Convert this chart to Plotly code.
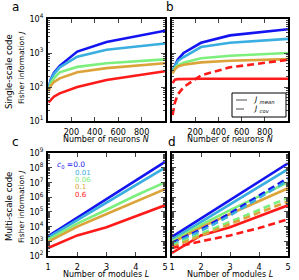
import plotly.graph_objects as go

# ---------------- data ----------------
N = [5, 25, 50, 100, 250, 500, 1000]
L = [1, 2, 3, 4, 5]
c0_labels = ["0.0", "0.01", "0.06", "0.1", "0.6"]
colors = ["#1414f0", "#3aaee0", "#7def7d", "#dba43a", "#ff1a1a"]

# panel a: single-scale, J (one series per c0)
a_c00 = [90, 170, 260, 420, 1100, 2100, 4500]
a_c01 = [85, 160, 240, 380, 780, 1250, 1900]
a_c06 = [80, 130, 180, 270, 390, 500, 650]
a_c10 = [75, 110, 140, 180, 270, 360, 500]
a_c60 = [35, 42, 52, 65, 100, 160, 290]

# panel b: single-scale, J mean (solid) and J cov (dashed, c0=0.6)
b_c00 = [300, 450, 650, 1000, 2000, 3300, 5000]
b_c01 = [290, 420, 580, 760, 1500, 2000, 2600]
b_c06 = [270, 360, 430, 520, 700, 830, 1000]
b_c10 = [250, 330, 400, 450, 530, 590, 660]
b_c60 = [130, 165, 170, 172, 175, 175, 175]
b_cov_c60 = [15, 35, 60, 100, 220, 380, 630]

# panel c: multi-scale, J
c_c00 = [2.2e3, 4.0e4, 7.9e5, 1.4e7, 2.5e8]
c_c01 = [1.8e3, 2.8e4, 4.0e5, 6.3e6, 1.0e8]
c_c06 = [1.3e3, 1.6e4, 1.4e5, 1.3e6, 1.0e7]
c_c10 = [9.0e2, 1.0e4, 7.1e4, 5.0e5, 3.5e6]
c_c60 = [3.5e2, 2.5e3, 8.9e3, 5.0e4, 2.8e5]

# panel d: multi-scale, J mean (solid) and J cov (dashed)
d_mean_c00 = [2.0e3, 3.5e4, 6.3e5, 1.1e7, 2.0e8]
d_mean_c01 = [1.3e3, 2.0e4, 3.2e5, 5.0e6, 7.9e7]
d_mean_c06 = [1.0e3, 1.3e4, 1.3e5, 1.1e6, 1.0e7]
d_mean_c10 = [7.9e2, 8.9e3, 7.1e4, 5.0e5, 4.0e6]
d_mean_c60 = [1.6e2, 2.5e3, 8.9e3, 5.0e4, 2.8e5]
d_cov_c00 = [7.9e2, 6.3e3, 7.9e4, 1.3e6, 2.0e7]
d_cov_c01 = [6.3e2, 5.0e3, 5.6e4, 8.9e5, 1.4e7]
d_cov_c06 = [5.0e2, 3.2e3, 2.2e4, 1.4e5, 8.9e5]
d_cov_c10 = [4.0e2, 2.5e3, 1.6e4, 8.9e4, 5.0e5]
d_cov_c60 = [3.5e2, 1.0e3, 2.5e3, 7.9e3, 3.2e4]

N_ticks = [200, 400, 600, 800]
L_ticks = [1, 2, 3, 4, 5]
top_decades = [1, 2, 3, 4]
bot_decades = [2, 3, 4, 5, 6, 7, 8, 9]

# ---------------- figure ----------------
W, H = 299, 280
FONT = "DejaVu Sans"
FONTC = "DejaVu Sans Condensed, DejaVu Sans"
fig = go.Figure()

panels = {
    "a": ("x", "y", N, [a_c00, a_c01, a_c06, a_c10, a_c60], []),
    "b": ("x2", "y2", N, [b_c00, b_c01, b_c06, b_c10, b_c60], [(4, b_cov_c60)]),
    "c": ("x3", "y3", L, [c_c00, c_c01, c_c06, c_c10, c_c60], []),
    "d": ("x4", "y4", L, [d_mean_c00, d_mean_c01, d_mean_c06, d_mean_c10, d_mean_c60],
          [(0, d_cov_c00), (1, d_cov_c01), (2, d_cov_c06), (3, d_cov_c10), (4, d_cov_c60)]),
}

for key, (xa, ya, xs, solids, dashes) in panels.items():
    for i, ys in enumerate(solids):
        fig.add_trace(go.Scatter(x=xs, y=ys, mode="lines", xaxis=xa, yaxis=ya,
                                 line=dict(color=colors[i], width=2.6),
                                 showlegend=False, hoverinfo="skip"))
    for i, ys in dashes:
        fig.add_trace(go.Scatter(x=xs, y=ys, mode="lines", xaxis=xa, yaxis=ya,
                                 line=dict(color=colors[i], width=2.6, dash="7px,4px"),
                                 showlegend=False, hoverinfo="skip"))


def px_x(p):
    return p / W


def px_y(p):
    return 1 - p / H


left_dom = [px_x(48), px_x(165)]
right_dom = [px_x(172), px_x(288)]
top_dom = [px_y(121), px_y(19)]
bot_dom = [px_y(256), px_y(153)]

tickfont = dict(family=FONTC, size=9, color="black")


def minor_vals(decades):
    return [m * 10 ** d for d in decades[:-1] for m in range(2, 10)]


def yax(dom, decades, show, anchor):
    return dict(type="log", domain=dom, range=[decades[0], decades[-1]],
                tickvals=[10 ** d for d in decades],
                ticktext=["10<sup>%d</sup>" % d for d in decades],
                showticklabels=show, ticks="inside", ticklen=4, tickwidth=1,
                minor=dict(tickvals=minor_vals(decades), ticks="inside", ticklen=2,
                           tickwidth=0.8, showgrid=False),
                showline=True, linecolor="black", linewidth=1.6, mirror="allticks",
                showgrid=False, zeroline=False, tickfont=tickfont, anchor=anchor,
                ticklabelstandoff=1, automargin=False)


def xax(dom, rng, vals, anchor):
    return dict(domain=dom, range=rng, tickvals=vals, ticks="inside", ticklen=4,
                tickwidth=1, showline=True, linecolor="black", linewidth=1.6,
                mirror="allticks", showgrid=False, zeroline=False, tickfont=tickfont,
                anchor=anchor, ticklabelstandoff=1, automargin=False)


fig.update_layout(
    width=W, height=H, margin=dict(l=0, r=0, t=0, b=0, autoexpand=False),
    paper_bgcolor="white", plot_bgcolor="white", showlegend=False,
    font=dict(family=FONT, color="black"),
    xaxis=xax(left_dom, [0, 1000], N_ticks, "y"),
    yaxis=yax(top_dom, top_decades, True, "x"),
    xaxis2=xax(right_dom, [0, 1000], N_ticks, "y2"),
    yaxis2=yax(top_dom, top_decades, False, "x2"),
    xaxis3=xax(left_dom, [1, 5], L_ticks, "y3"),
    yaxis3=yax(bot_dom, bot_decades, True, "x3"),
    xaxis4=xax(right_dom, [1, 5], L_ticks, "y4"),
    yaxis4=yax(bot_dom, bot_decades, False, "x4"),
)

ann = []


def text(x, y, s, size, color="black", angle=0, xanchor="center", yanchor="middle",
         family=FONT):
    ann.append(dict(x=px_x(x), y=px_y(y), xref="paper", yref="paper", text=s,
                    showarrow=False, textangle=angle, xanchor=xanchor, yanchor=yanchor,
                    font=dict(family=family, size=size, color=color)))


# panel letters
text(15, 7, "a", 12)
text(170, 7, "b", 12)
text(15, 142, "c", 12)
text(172, 142, "d", 12)

# row labels
text(8, 72, "Single-scale code", 9.5, angle=-90, family=FONTC)
text(21, 68, "Fisher information <i>J</i>", 7.5, angle=-90)
text(8, 207, "Multi-scale code", 9.5, angle=-90, family=FONTC)
text(21, 207, "Fisher information <i>J</i>", 7.5, angle=-90)

# x titles
text(106, 139, "Number of neurons <i>N</i>", 8)
text(230, 139, "Number of neurons <i>N</i>", 8)
text(106, 274, "Number of modules <i>L</i>", 8)
text(230, 274, "Number of modules <i>L</i>", 8)

# c0 labels in panel c
text(55, 165, "<i>c</i><sub>0</sub> =" + c0_labels[0], 7.5, colors[0], xanchor="left")
for i, (lab, yy) in enumerate(zip(c0_labels[1:], [173, 180, 187, 195])):
    text(73, yy, lab, 7, colors[i + 1], xanchor="left")

# legend in panel b
text(251, 100, "<i>J</i> <sub><i>mean</i></sub>", 7.5, xanchor="left")
text(251, 109, "<i>J</i> <sub><i>cov</i></sub>", 7.5, xanchor="left")

fig.update_layout(annotations=ann)

shapes = [
    dict(type="rect", xref="paper", yref="paper", x0=px_x(232), x1=px_x(286),
         y0=px_y(117), y1=px_y(93), line=dict(color="black", width=1),
         fillcolor="white", layer="above"),
    dict(type="line", xref="paper", yref="paper", x0=px_x(236), x1=px_x(247),
         y0=px_y(100), y1=px_y(100), line=dict(color="#888888", width=1.5), layer="above"),
    dict(type="line", xref="paper", yref="paper", x0=px_x(236), x1=px_x(244),
         y0=px_y(109), y1=px_y(109), line=dict(color="#888888", width=1.5), layer="above"),
]
fig.update_layout(shapes=shapes)

fig.write_html("out.html", config={"displayModeBar": False},
               post_script="document.body.style.margin='0';document.body.style.overflow='hidden';")
